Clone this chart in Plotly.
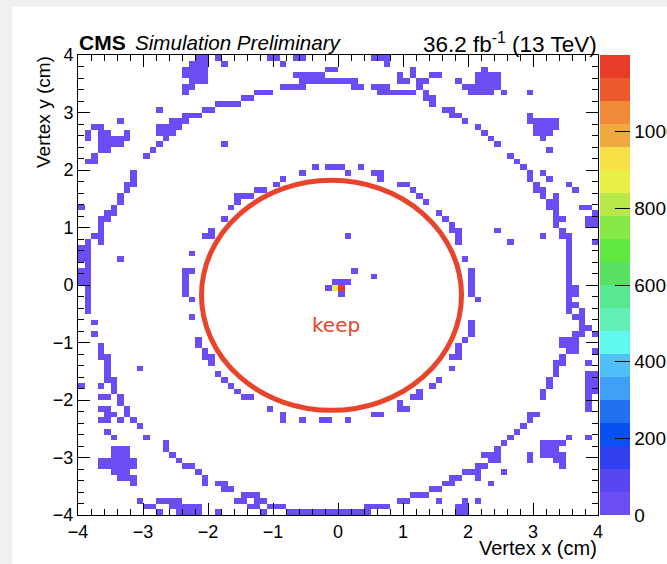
import numpy as np
import plotly.graph_objects as go

# 80 x 80 bins of 0.1 cm covering [-4, 4] x [-4, 4]
N_BINS = 80
X_EDGES = np.round(np.linspace(-4.0, 4.0, N_BINS + 1), 3)
Y_EDGES = np.round(np.linspace(-4.0, 4.0, N_BINS + 1), 3)

# Occupied bins per row, listed from the top row (y = 4) downward.
# Each entry gives x-bin indices ("a-b" = run a..b inclusive).
HIT_ROWS = [
    "18-19 21 29-30 33-34 45-47",        # 0
    "17-19 22 31 47",                    # 1
    "16-19 38-39 51 62",                 # 2
    "16-19 33-37 49 51 54-55 61-64",     # 3
    "17-19 34-42 49-50 52-53 58 61-64",  # 4
    "16-17 31-34 42-43 45-47 52 59-64",  # 5
    "16 27-29 46-51 53 60-63 65 69",     # 6
    "25-26 53-54",                       # 7
    "21-24 54",                          # 8
    "12 19-20 56-57",                    # 9
    "16-18 57-58 69",                    # 10
    "6 14-16 59 69-73",                  # 11
    "2-3 12-15 61 70-73",                # 12
    "1 3-4 7 12-14 62 70-72",            # 13
    "1 3-7 13 63 71",                    # 14
    "3-6 12 22 64",                      # 15
    "3-4 11 72",                         # 16
    "2 10 66",                           # 17
    "1-2 67",                            # 18
    "36 38-40 43 68",                    # 19
    "8 34 41 45-46 69 71",               # 20
    "8 31 46 69 72",                     # 21
    "7-8 30 49-50 70 75",                # 22
    "7 27-28 51 70-71 76",               # 23
    "6 24-26 52 71 73",                  # 24
    "6 24 53 72-73",                     # 25
    "0 5 23 72-73 77-78",                # 26
    "4-5 55 73 79",                      # 27
    "3-4 22 56 73-74 78-79",             # 28
    "3 57 73 78-79",                     # 29
    "3 20 57-58 64 74",                  # 30
    "2-3 19-20 41 58 71 74-75",          # 31
    "1 3 58 66 75 79",                   # 32
    "0-1 75",                            # 33
    "0-1 17 75",                         # 34
    "0-1 6 59 75",                       # 35
    "1 75",                              # 36
    "0-1 16-17 42 60 75",                # 37
    "0-1 16 45 60 75",                   # 38
    "0-1 16 39-41 60 75",                # 39
    "1 16 38 60 75-76",                  # 40
    "1 16 40 60 75-76",                  # 41
    "1 17 61 75",                        # 42
    "1 75-76",                           # 43
    "1 75 77",                           # 44
    "17 76-77",                          # 45
    "2 60 77",                           # 46
    "60 77-78",                          # 47
    "2 60 76-77 79",                     # 48
    "18 59 74-76",                       # 49
    "3 18 58 74-76",                     # 50
    "3 19 58 75-76 79",                  # 51
    "3-4 19-20 57-58 74",                # 52
    "4 20 73-74 78",                     # 53
    "4 9 57 73",                         # 54
    "4 21 73 78-79",                     # 55
    "4-5 22 55 72 78-79",                # 56
    "0 3 5 23 54 72 78-79",              # 57
    "5 24 52 71 78-79",                  # 58
    "3-4 6 25-26 51-52 71 78",           # 59
    "6 49 78",                           # 60
    "3-4 7 29 49-50 78",                 # 61
    "4-5 7 31 45-46 69-70",              # 62
    "3-4 6 8 31 34 37-38 41 69",         # 63
    "9 68",                              # 64
    "4 67",                              # 65
    "5 10 66 75 78",                     # 66
    "13 65 71-74",                       # 67
    "5-7 13 64 71-73",                   # 68
    "5-7 14 62-64 69 71-74",             # 69
    "3-8 15 63-64 69 73-74",             # 70
    "3-8 16-17 61-62 74",                # 71
    "5-7 18 59-61 65",                   # 72
    "6-8 19 57-58 61",                   # 73
    "8 19 21-22 56-57 63",               # 74
    "22-23 54-55",                       # 75
    "25-27 51-53",                       # 76
    "9 12-15 24-25 27-28 49-50 55 59 61",  # 77
    "10-11 14-18 26-27 29-31 44-47 58-59",  # 78
    "12 15-18 21 28 32-44 58-59",        # 79
]
LOW_COUNT = 20
# Hot bins at the beam spot: (row, column, entries)
HOT_BINS = [(40, 39, 870), (40, 40, 1170)]

# Colour palette, lowest band first (20 bands over 0..1200)
PALETTE = [
    "#6c4cf4", "#5846f0", "#3040f0", "#0850f0", "#2070f0",
    "#40a0f8", "#50c0f8", "#60f8f0", "#60f0b8", "#58e890",
    "#58e060", "#60e840", "#88e848", "#b8e848", "#e8f048",
    "#f8e048", "#f0a840", "#f08a38", "#ec5a2c", "#e83c28",
]
Z_MAX = 1200
CBAR_TICKS = [0, 200, 400, 600, 800, 1000]
AXIS_TICKS = [-4, -3, -2, -1, 0, 1, 2, 3, 4]

CIRCLE_CENTER = (-0.10, -0.18)
CIRCLE_RADIUS = 2.0
RED = "#e8432b"

# build the count grid (row 0 = top)
grid = np.full((N_BINS, N_BINS), np.nan)
for iy, spec in enumerate(HIT_ROWS):
    for tok in spec.split():
        if "-" in tok:
            a, b = (int(v) for v in tok.split("-"))
        else:
            a = b = int(tok)
        grid[iy, a:b + 1] = LOW_COUNT
for iy, ix, val in HOT_BINS:
    grid[iy, ix] = val

x_centers = 0.5 * (X_EDGES[:-1] + X_EDGES[1:])
y_centers = 0.5 * (Y_EDGES[:-1] + Y_EDGES[1:])
z = grid[::-1]  # flip so rows run bottom -> top

n = len(PALETTE)
colorscale = []
for i, c in enumerate(PALETTE):
    colorscale.append([i / n, c])
    colorscale.append([(i + 1) / n, c])

FONT = "Liberation Sans, Arial, sans-serif"

fig = go.Figure()
fig.add_trace(go.Heatmap(
    x=x_centers, y=y_centers, z=z,
    zmin=0, zmax=Z_MAX, colorscale=colorscale,
    hoverinfo="skip",
    colorbar=dict(
        x=1.004, xanchor="left", y=0.5, yanchor="middle",
        len=1, lenmode="fraction", thickness=30, thicknessmode="pixels",
        xpad=0, ypad=0, outlinewidth=0,
        ticks="inside", ticklen=15, tickwidth=1, tickcolor="black",
        tickvals=CBAR_TICKS, ticktext=[str(v) for v in CBAR_TICKS],
        tickfont=dict(family=FONT, size=19, color="black"),
    ),
))
# empty trace that hosts the mirrored (top / right) tick axes
fig.add_trace(go.Scatter(x=[None], y=[None], xaxis="x2", yaxis="y2",
                         mode="markers", hoverinfo="skip", showlegend=False))

tick_style = dict(
    range=[-4, 4], tickvals=AXIS_TICKS,
    ticks="inside", ticklen=12, tickwidth=1, tickcolor="black",
    showgrid=False, zeroline=False,
    minor=dict(dtick=0.2, tick0=0, ticks="inside", ticklen=6,
               tickwidth=1, tickcolor="black", showgrid=False),
)
labelled = dict(
    ticktext=[("\u2212" + str(-v)) if v < 0 else str(v) for v in AXIS_TICKS],
    showline=True, linecolor="black", linewidth=1, mirror=True,
    tickfont=dict(family=FONT, size=18, color="black"),
)
fig.update_layout(
    xaxis=dict(**tick_style, **labelled),
    yaxis=dict(**tick_style, **labelled),
    xaxis2=dict(**tick_style, overlaying="x", side="top", anchor="y",
                showticklabels=False, showline=False),
    yaxis2=dict(**tick_style, overlaying="y", side="right", anchor="x",
                showticklabels=False, showline=False),
)

# canvas: grey surround with a white page
fig.add_shape(type="rect", xref="paper", yref="paper",
              x0=(12 - 78) / 520, x1=1.2, y0=-0.2, y1=(515 - 7) / 460,
              fillcolor="white", line=dict(width=0), layer="below")

# selection circle
cx, cy = CIRCLE_CENTER
fig.add_shape(type="circle", xref="x", yref="y",
              x0=cx - CIRCLE_RADIUS, x1=cx + CIRCLE_RADIUS,
              y0=cy - CIRCLE_RADIUS, y1=cy + CIRCLE_RADIUS,
              line=dict(color=RED, width=5), layer="above")

ann = [
    dict(text="<b>CMS</b>", x=0, y=(515 - 43) / 460, xanchor="left", yanchor="middle",
         font=dict(family=FONT, size=21, color="black")),
    dict(text="<i>Simulation Preliminary</i>", x=(134 - 78) / 520, y=(515 - 43) / 460,
         xanchor="left", yanchor="middle", font=dict(family=FONT, size=20.6, color="black")),
    dict(text="36.2 fb<sup>-1</sup> (13 TeV)", x=1, y=(515 - 43) / 460,
         xanchor="right", yanchor="middle", font=dict(family=FONT, size=22.5, color="black")),
    dict(text="Vertex x (cm)", x=1, y=(515 - 548) / 460, xanchor="right", yanchor="middle",
         font=dict(family=FONT, size=20, color="black")),
    dict(text="Vertex y (cm)", x=(43 - 78) / 520, y=1, xanchor="center", yanchor="top",
         textangle=-90, font=dict(family=FONT, size=19, color="black")),
]
for a in ann:
    a.update(xref="paper", yref="paper", showarrow=False, borderpad=0)
    fig.add_annotation(**a)

fig.add_annotation(text="keep", x=-0.03, y=-0.70, xref="x", yref="y", showarrow=False,
                   font=dict(family="DejaVu Sans, Verdana, sans-serif", size=20, color=RED))

fig.update_layout(
    width=667, height=564, autosize=False,
    margin=dict(l=78, r=69, t=55, b=49, pad=0, autoexpand=False),
    paper_bgcolor="#f0f0f0", plot_bgcolor="white",
    showlegend=False,
)

fig.write_html("out.html")
